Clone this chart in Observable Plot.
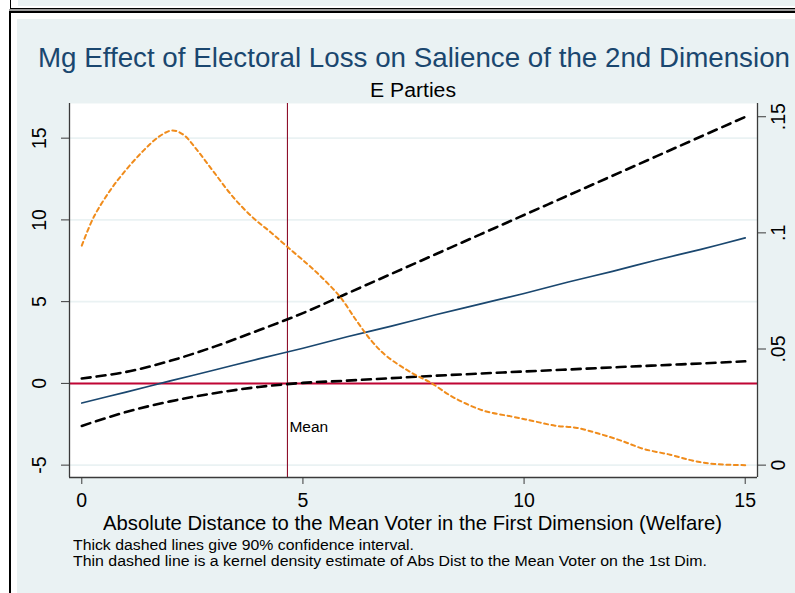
<!DOCTYPE html>
<html>
<head>
<meta charset="utf-8">
<script src="https://cdn.jsdelivr.net/npm/d3@7"></script>
<script src="https://cdn.jsdelivr.net/npm/@observablehq/plot@0.6"></script>
<style>
  html, body { margin: 0; padding: 0; }
  body { width: 795px; height: 593px; overflow: hidden; background: #fff; position: relative;
         font-family: "Liberation Sans", Arial, sans-serif; }
  #topstrip { position: absolute; left: 10px; top: -20px; width: 820px; height: 27px; border: 1.5px solid #000; background: #fff; }
  #topfill { position: absolute; left: 7px; top: 0; right: 0; bottom: 2px; background: #eaf2f3; }
  #gap { position: absolute; left: 9px; top: 9px; width: 820px; height: 2px; background: #9a9a9a; }
  #frame { position: absolute; left: 9px; top: 11px; width: 820px; height: 620px; border-left: 2px solid #000; border-top: 2px solid #000; background: #fff; }
  #region { position: absolute; left: 17px; top: 19px; width: 778px; height: 574px; background: #eaf2f3; }
  #chart { position: absolute; left: 17px; top: 19px; }
  .txt { position: absolute; white-space: nowrap; line-height: 1; transform-origin: 0 0; }
  #title { color: #1a476f; font-size: 27.5px; }
  #subtitle { color: #000; font-size: 20px; }
  #xtitle { color: #000; font-size: 21px; }
  .cap { color: #000; font-size: 14px; }
</style>
</head>
<body>
<div id="topstrip"><div id="topfill"></div></div>
<div id="gap"></div>
<div id="frame"></div>
<div id="region"></div>
<div id="chart"></div>
<div id="title" class="txt">Mg Effect of Electoral Loss on Salience of the 2nd Dimension</div>
<div id="subtitle" class="txt">E Parties</div>
<div id="xtitle" class="txt">Absolute Distance to the Mean Voter in the First Dimension (Welfare)</div>
<div id="cap1" class="txt cap">Thick dashed lines give 90% confidence interval.</div>
<div id="cap2" class="txt cap">Thin dashed line is a kernel density estimate of Abs Dist to the Mean Voter on the 1st Dim.</div>
<script>
// ---- data ----
const xTicks = [0, 5, 10, 15];
const yTicks = [-5, 0, 5, 10, 15];
const densTicks = [0, 0.05, 0.1, 0.15];
const densTickLabels = ["0", ".05", ".1", ".15"];

const effectX = [0, 1, 2, 3, 4, 5, 6, 7, 8, 9, 10, 11, 12, 13, 14, 15];
const meanEffect = [-1.2, -0.53, 0.15, 0.82, 1.5, 2.15, 2.85, 3.5, 4.2, 4.85, 5.5, 6.2, 6.85, 7.55, 8.2, 8.9];
const upperCI = [0.3, 0.7, 1.38, 2.25, 3.25, 4.3, 5.5, 6.7, 7.9, 9.1, 10.3, 11.5, 12.7, 13.9, 15.1, 16.3];
const lowerCI = [-2.6, -1.75, -1.1, -0.6, -0.22, 0.03, 0.17, 0.32, 0.47, 0.6, 0.73, 0.85, 0.98, 1.1, 1.22, 1.35];

const densX = [0, 0.27, 0.65, 1.03, 1.4, 1.75, 2.05, 2.3, 2.6, 3.0, 3.44, 3.89, 4.27, 4.64, 5.1, 5.47, 5.85, 6.2, 6.55, 6.9, 7.51, 7.88, 8.41, 9.09, 9.7, 10.2, 10.7, 11.2, 11.7, 12.2, 12.7, 13.3, 13.8, 14.3, 15];
const density = [0.0945, 0.1068, 0.1185, 0.1278, 0.1355, 0.1415, 0.1441, 0.1422, 0.1358, 0.1258, 0.1150, 0.1062, 0.1003, 0.0941, 0.0866, 0.0800, 0.0722, 0.0625, 0.0535, 0.0468, 0.0392, 0.0356, 0.0291, 0.0234, 0.021, 0.019, 0.017, 0.016, 0.0135, 0.0105, 0.007, 0.0045, 0.002, 0.0005, 0];

const meanDistance = [4.65];
const meanLabel = ["Mean"];

// ---- scales ----
const xDomain = [-0.278, 15.278];
const yDomain = [-5.756, 17.12];
// secondary (density) axis expressed in primary-axis units: 0 -> -5, .15 -> 16.31
const densToY = d => -5 + d * 142.07;

const idx = effectX.map((_, i) => i);
const didx = densX.map((_, i) => i);

const chart = Plot.plot({
  width: 778,
  height: 574,
  marginLeft: 52,
  marginRight: 38,
  marginTop: 84,
  marginBottom: 116,
  style: { background: "transparent", fontFamily: "'Liberation Sans', Arial, sans-serif", fontSize: "19px", color: "#000", overflow: "visible" },
  x: { domain: xDomain },
  y: { domain: yDomain },
  marks: [
    Plot.frame({ fill: "white", stroke: null }),
    Plot.ruleY(yTicks, { stroke: "#eaf2f3", strokeWidth: 1.6 }),
    Plot.ruleY([0], { stroke: "#c10534", strokeWidth: 2 }),
    Plot.ruleX(meanDistance, { stroke: "#8e0f2b", strokeWidth: 1.1 }),
    Plot.text(meanLabel, { x: () => meanDistance[0], y: () => -2.95, text: d => d, dx: 2, textAnchor: "start", lineAnchor: "bottom", fontSize: 15.5 }),
    Plot.line(idx, { x: i => effectX[i], y: i => upperCI[i], stroke: "#000", strokeWidth: 2.6, strokeDasharray: "9,6", curve: "catmull-rom" }),
    Plot.line(idx, { x: i => effectX[i], y: i => lowerCI[i], stroke: "#000", strokeWidth: 2.6, strokeDasharray: "9,6", curve: "catmull-rom" }),
    Plot.line(idx, { x: i => effectX[i], y: i => meanEffect[i], stroke: "#1a476f", strokeWidth: 1.7, curve: "catmull-rom" }),
    Plot.line(didx, { x: i => densX[i], y: i => densToY(density[i]), stroke: "#f08c1c", strokeWidth: 2, strokeDasharray: "4,3.5", curve: "catmull-rom" }),
    // axis lines
    Plot.ruleX([xDomain[0], xDomain[1]], { stroke: "#3a3a3a", strokeWidth: 1.3 }),
    Plot.ruleY([yDomain[0]], { stroke: "#3a3a3a", strokeWidth: 1.3 }),
    // x axis
    Plot.axisX({ ticks: xTicks, tickSize: 7, tickPadding: 9, fontSize: 19.5, label: null, stroke: "#3a3a3a" }),
    // left y axis
    Plot.axisY({ ticks: yTicks, tickSize: 8, tickFormat: () => "", label: null, stroke: "#3a3a3a" }),
    Plot.text(yTicks, { x: () => xDomain[0], y: d => d, text: d => String(d), rotate: -90, dx: -30, fontSize: 19.5, textAnchor: "middle", lineAnchor: "middle" }),
    // right (density) axis
    Plot.axisY({ anchor: "right", ticks: densTicks.map(densToY), tickSize: 8, tickFormat: () => "", label: null, stroke: "#3a3a3a" }),
    Plot.text(densTicks, { x: () => xDomain[1], y: d => densToY(d), text: (d, i) => densTickLabels[i], rotate: -90, dx: 21, fontSize: 19.5, textAnchor: "middle", lineAnchor: "middle" })
  ]
});
document.getElementById("chart").appendChild(chart);

// ---- place HTML text (left, baseline, target width) ----
function place(id, left, baseline, width) {
  const el = document.getElementById(id);
  const fs = parseFloat(getComputedStyle(el).fontSize);
  const w = el.getBoundingClientRect().width;
  el.style.left = left + "px";
  el.style.top = (baseline - 0.8465 * fs) + "px";
  el.style.transform = `scaleX(${width / w})`;
}
place("title", 38, 67, 752);
place("subtitle", 370, 97, 86);
place("xtitle", 103, 530, 619);
place("cap1", 73, 550, 341);
place("cap2", 73, 566, 634);
</script>
</body>
</html>
